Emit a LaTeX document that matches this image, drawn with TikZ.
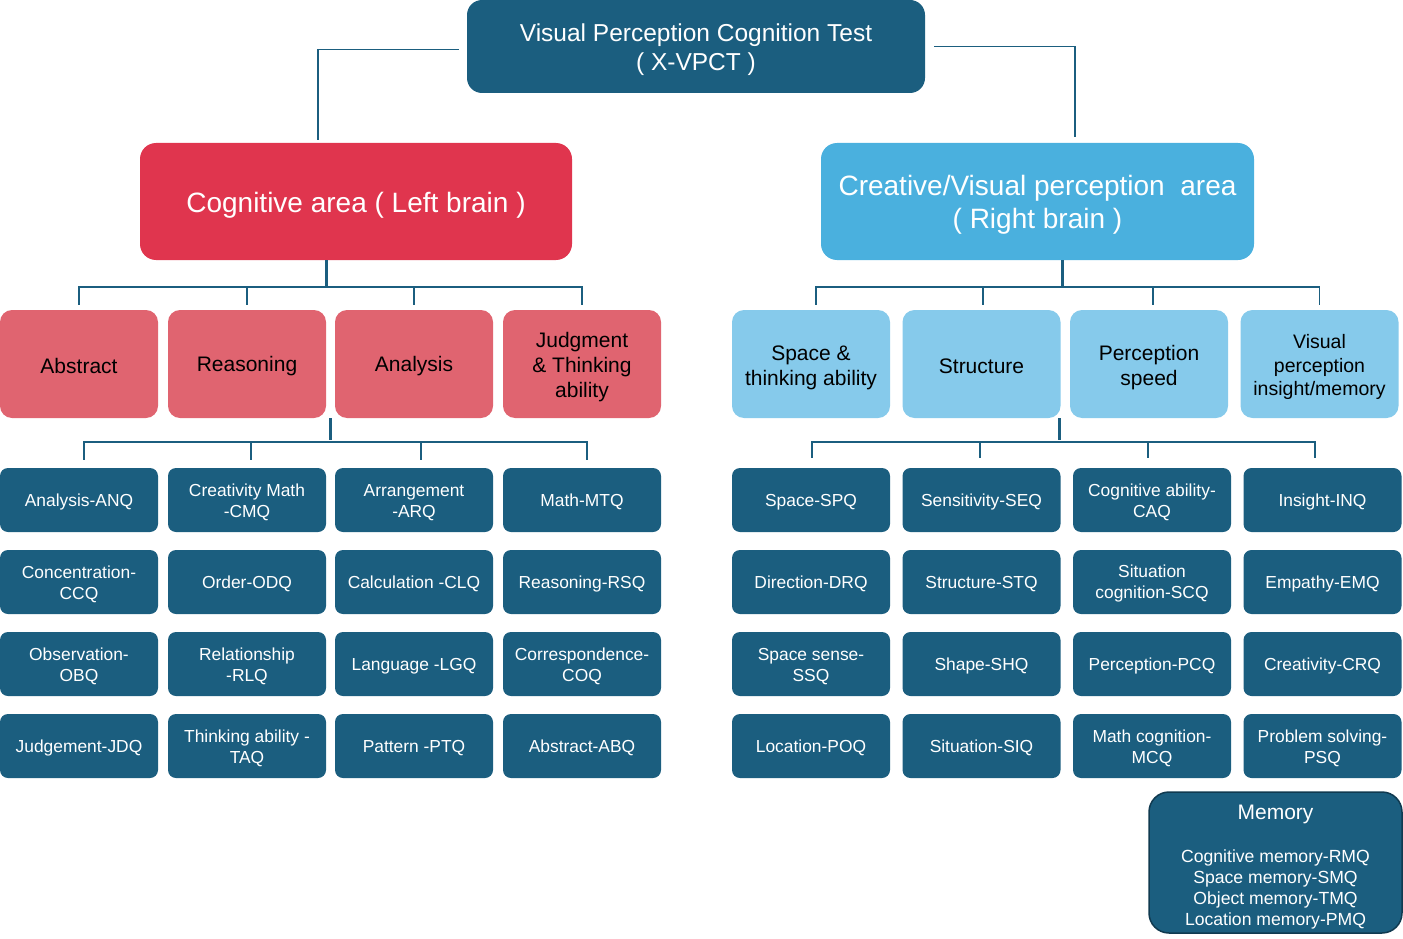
\documentclass[tikz,border=0pt]{standalone}
\usepackage{fontspec}
\setmainfont{Liberation Sans}
\usetikzlibrary{positioning,calc}
\definecolor{dteal}{RGB}{27,94,127}
\definecolor{dborder}{RGB}{16,58,80}
\definecolor{cred}{RGB}{224,53,78}
\definecolor{cpink}{RGB}{224,100,112}
\definecolor{cblue}{RGB}{74,176,222}
\definecolor{clblue}{RGB}{134,202,235}
\newcommand\fl[1]{\rule{0pt}{#1}}
\newcommand\qf{\fl{16.5pt}}
\tikzset{
  box/.style={rectangle, align=center, inner sep=2pt},
  lower/.style={execute at begin node={\rule{0pt}{#1}}},
  topbox/.style={box, fill=dteal, text=white, rounded corners=15pt, minimum width=458pt, minimum height=93pt, font=\fontsize{24.5}{29}\selectfont},
  areabox/.style={box, text=white, rounded corners=16pt, minimum width=432pt, minimum height=117pt, font=\fontsize{28}{33}\selectfont, lower=27pt},
  catbox/.style={box, text=black, rounded corners=12pt, minimum width=158pt, minimum height=108pt, font=\fontsize{21}{25}\selectfont, lower=19pt},
  qbox/.style={box, fill=dteal, text=white, rounded corners=8pt, minimum width=158pt, minimum height=64pt, font=\fontsize{17.4}{21}\selectfont, lower=16.5pt},
  membox/.style={box, fill=dteal, draw=dborder, line width=1.5pt, text=white, rounded corners=20pt, minimum width=253pt, minimum height=141pt, font=\fontsize{17.6}{21}\selectfont},
  conn/.style={draw=dteal, line width=1.8pt},
  tconn/.style={draw=dteal, line width=3pt},
}
\begin{document}
\begin{tikzpicture}[x=1pt,y=1pt]
\useasboundingbox (0,0) rectangle (1403,-939);
% top
\node[topbox] (top) at (696,-46.5) {\fl{24pt}Visual Perception Cognition Test\\( X-VPCT )};
\node[areabox, fill=cred] (red) at (356,-201.5) {Cognitive area ( Left brain )};
\node[areabox, fill=cblue, minimum width=433pt] (blue) at (1037.5,-201.5) {\fl{26.5pt}Creative/Visual perception\ \ area\\( Right brain )};
% categories left
\node[catbox, fill=cpink] (p1) at (79,-364) {Abstract};
\node[catbox, fill=cpink] (p2) at (247,-364) {Reasoning};
\node[catbox, fill=cpink] (p3) at (414,-364) {Analysis};
\node[catbox, fill=cpink] (p4) at (582,-364) {\fl{21.5pt}Judgment\\\& Thinking\\ability};
% categories right
\node[catbox, fill=clblue] (b1) at (811,-364) {\fl{21.5pt}Space \&\\thinking ability};
\node[catbox, fill=clblue] (b2) at (981.5,-364) {Structure};
\node[catbox, fill=clblue] (b3) at (1149,-364) {\fl{21.5pt}Perception\\speed};
\node[catbox, fill=clblue, font=\fontsize{19.5}{23.5}\selectfont] (b4) at (1319.5,-364) {\fl{20.5pt}Visual\\perception\\insight/memory};
% left q boxes
\node[qbox] (l11) at (79,-500) {Analysis-ANQ};
\node[qbox] (l12) at (247,-500) {\qf Creativity Math\\-CMQ};
\node[qbox] (l13) at (414,-500) {\qf Arrangement\\-ARQ};
\node[qbox] (l14) at (582,-500) {Math-MTQ};
\node[qbox] (l21) at (79,-582) {\qf Concentration-\\CCQ};
\node[qbox] (l22) at (247,-582) {Order-ODQ};
\node[qbox] (l23) at (414,-582) {Calculation -CLQ};
\node[qbox] (l24) at (582,-582) {Reasoning-RSQ};
\node[qbox] (l31) at (79,-664) {\qf Observation-\\OBQ};
\node[qbox] (l32) at (247,-664) {\qf Relationship\\-RLQ};
\node[qbox] (l33) at (414,-664) {Language -LGQ};
\node[qbox] (l34) at (582,-664) {\qf Correspondence-\\COQ};
\node[qbox] (l41) at (79,-746) {Judgement-JDQ};
\node[qbox] (l42) at (247,-746) {\qf Thinking ability -\\TAQ};
\node[qbox] (l43) at (414,-746) {Pattern -PTQ};
\node[qbox] (l44) at (582,-746) {Abstract-ABQ};
% right q boxes
\node[qbox] (r11) at (811,-500) {Space-SPQ};
\node[qbox] (r12) at (981.5,-500) {Sensitivity-SEQ};
\node[qbox] (r13) at (1152,-500) {\qf Cognitive ability-\\CAQ};
\node[qbox] (r14) at (1322.5,-500) {Insight-INQ};
\node[qbox] (r21) at (811,-582) {Direction-DRQ};
\node[qbox] (r22) at (981.5,-582) {Structure-STQ};
\node[qbox] (r23) at (1152,-582) {\qf Situation\\cognition-SCQ};
\node[qbox] (r24) at (1322.5,-582) {Empathy-EMQ};
\node[qbox] (r31) at (811,-664) {\qf Space sense-\\SSQ};
\node[qbox] (r32) at (981.5,-664) {Shape-SHQ};
\node[qbox] (r33) at (1152,-664) {Perception-PCQ};
\node[qbox] (r34) at (1322.5,-664) {Creativity-CRQ};
\node[qbox] (r41) at (811,-746) {Location-POQ};
\node[qbox] (r42) at (981.5,-746) {Situation-SIQ};
\node[qbox] (r43) at (1152,-746) {\qf Math cognition-\\MCQ};
\node[qbox] (r44) at (1322.5,-746) {\qf Problem solving-\\PSQ};
% memory
\node[membox] (mem) at (1275.5,-862.5) {\fontsize{21}{25}\selectfont\rule{0pt}{23pt}Memory\\[22pt]Cognitive memory-RMQ\\Space memory-SMQ\\Object memory-TMQ\\Location memory-PMQ};
% connectors top
\draw[conn] ([xshift=-8pt,yshift=-3pt]top.west) -| ([xshift=-38pt,yshift=3pt]red.north);
\draw[conn] ([xshift=9pt]top.east) -| ([xshift=37.5pt,yshift=6pt]blue.north);
% left tree level 1
\coordinate (lbar) at (326,-287);
\draw[tconn] ([xshift=-30pt]red.south) -- (lbar);
\draw[conn] ([yshift=5pt]p1.north) -- ++(0,18) -| ([yshift=5pt]p4.north);
\draw[conn] ([yshift=5pt]p2.north) -- ++(0,18);
\draw[conn] ([yshift=5pt]p3.north) -- ++(0,19);
% left tree level 2
\coordinate (lj) at (330.5,-418);
\draw[tconn] (lj) -- (330.5,-440);
\draw[conn] ([xshift=5pt,yshift=8pt]l11.north) -- ++(0,18) -| ([xshift=5pt,yshift=8pt]l14.north);
\draw[conn] ([xshift=4pt,yshift=8pt]l12.north) -- ++(0,18);
\draw[conn] ([xshift=7pt,yshift=8pt]l13.north) -- ++(0,19);
% right tree level 1
\coordinate (rbar) at (1062,-287);
\draw[tconn] ([xshift=24.5pt]blue.south) -- (rbar);
\draw[conn] ([xshift=5pt,yshift=5pt]b1.north) -- ++(0,18) -| ([yshift=5pt]b4.north);
\draw[conn] ([xshift=1.5pt,yshift=5pt]b2.north) -- ++(0,18);
\draw[conn] ([xshift=4pt,yshift=5pt]b3.north) -- ++(0,19);
% right tree level 2
\coordinate (rj) at (1059.5,-418);
\draw[tconn] (rj) -- (1059.5,-440);
\draw[conn] ([xshift=1pt,yshift=10pt]r11.north) -- ++(0,16) -| ([xshift=-7.5pt,yshift=10pt]r14.north);
\draw[conn] ([xshift=-1.5pt,yshift=10pt]r12.north) -- ++(0,16);
\draw[conn] ([xshift=-4pt,yshift=10pt]r13.north) -- ++(0,17);
\end{tikzpicture}
\end{document}
